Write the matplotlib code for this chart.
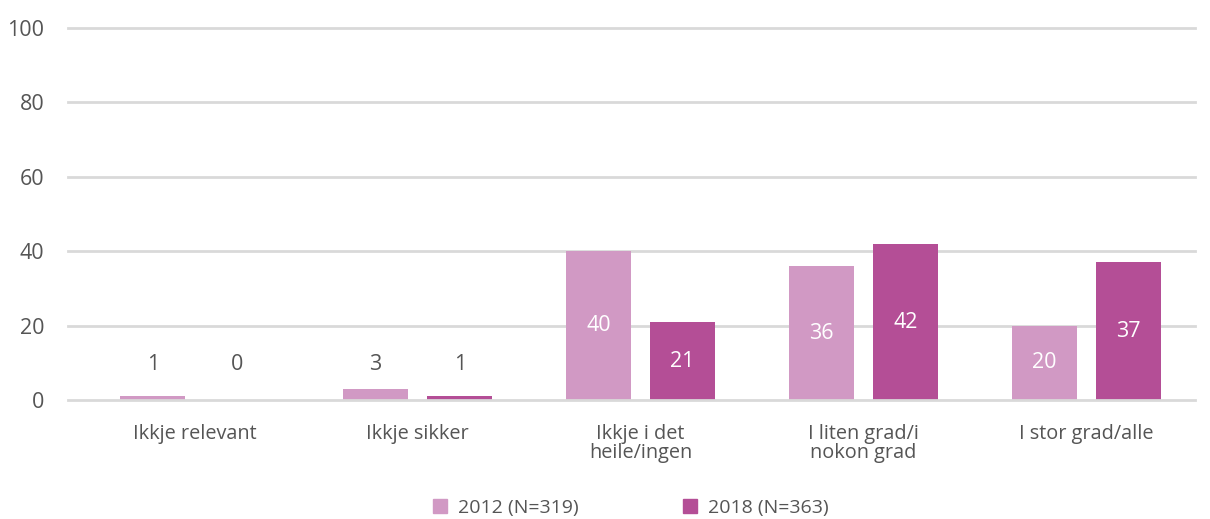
import matplotlib
matplotlib.use("Agg")
import matplotlib.pyplot as plt
from matplotlib.lines import Line2D
import numpy as np

categories = ["Ikkje relevant", "Ikkje sikker", "Ikkje i det\nheile/ingen",
              "I liten grad/i\nnokon grad", "I stor grad/alle"]
series_names = ["2012 (N=319)", "2018 (N=363)"]
values_2012 = [1, 3, 40, 36, 20]
values_2018 = [0, 1, 21, 42, 37]
yticks = [0, 20, 40, 60, 80, 100]

c_light = "#D199C4"
c_dark = "#B44E96"
txt = "#555555"
grid_c = "#D9D9D9"

plt.rcParams['font.family'] = ['Open Sans', 'DejaVu Sans']

fig = plt.figure(figsize=(12.1, 5.19), dpi=100)
ax = fig.add_axes([0.056, 0.229, 0.932, 0.717])

x = np.arange(len(categories))
off = 0.189
w = 0.292

for vals, col, sign in [(values_2012, c_light, -1), (values_2018, c_dark, 1)]:
    ax.bar(x + sign * off, vals, width=w, color=col, zorder=2)
    for xi, v in zip(x, vals):
        if v < 5:
            ax.text(xi + sign * off, 9.5, f"{v}", ha="center", va="center",
                    fontsize=15.5, color=txt, zorder=3)
        else:
            ax.text(xi + sign * off, v / 2, f"{v}", ha="center", va="center",
                    fontsize=15.5, color="white", zorder=3)

ax.set_ylim(0, 100)
ax.set_xlim(-0.57, 4.49)
ax.set_yticks(yticks)
ax.set_yticklabels([str(t) for t in yticks])
for t in yticks:
    ax.axhline(t, color=grid_c, lw=2, zorder=1 if t else 4, clip_on=False)

ax.set_xticks(x)
ax.set_xticklabels(categories, fontsize=14.3, color=txt, linespacing=0.95)
ax.tick_params(axis='x', length=0, pad=17, labelcolor=txt)
ax.tick_params(axis='y', length=0, pad=17, labelsize=15.5, labelcolor=txt)
for s in ax.spines.values():
    s.set_visible(False)

handles = [Line2D([], [], marker='s', ls='none', markersize=9.5, color=c)
           for c in (c_light, c_dark)]
fig.legend(handles, series_names, loc='lower center', ncol=2,
           bbox_to_anchor=(0.521, -0.03), frameon=False, fontsize=14,
           labelcolor=txt, handlelength=0.8, handletextpad=0.5,
           columnspacing=5.33)

fig.savefig("out.png", dpi=100)
